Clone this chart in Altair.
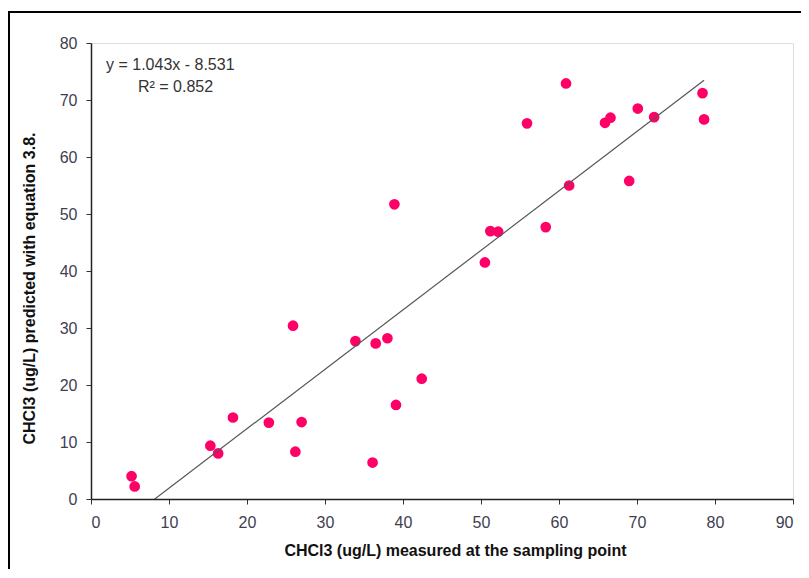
import altair as alt
import pandas as pd

# Measured (x) and predicted (y) CHCl3 values
measured = [5.2, 5.6, 15.3, 16.3, 18.2, 22.8, 26.2, 27.0, 25.9, 33.9,
            36.5, 38.0, 36.1, 39.1, 42.4, 38.9, 50.5, 51.2, 52.2, 55.9,
            58.3, 60.9, 61.3, 65.9, 66.6, 70.1, 69.0, 72.2, 78.4, 78.6]
predicted = [4.0, 2.2, 9.35, 8.0, 14.3, 13.4, 8.3, 13.5, 30.4, 27.7,
             27.3, 28.2, 6.4, 16.5, 21.1, 51.7, 41.5, 47.0, 46.9, 65.9,
             47.7, 72.9, 55.0, 66.0, 66.9, 68.5, 55.8, 67.0, 71.2, 66.6]

slope = 1.043
intercept = -8.531
eq_text = "y = 1.043x  - 8.531"
r2_text = "R² = 0.852"

x_ticks = list(range(0, 91, 10))
y_ticks = list(range(0, 81, 10))

df = pd.DataFrame({"x": measured, "y": predicted})
line_x = [min(measured), max(measured)]
line_df = pd.DataFrame({"x": line_x, "y": [slope * v + intercept for v in line_x]})

W, H = 702, 456
FONT = "Liberation Sans"

xscale = alt.Scale(domain=[0, 90], nice=False)
yscale = alt.Scale(domain=[0, 80], nice=False)

xaxis = alt.Axis(values=x_ticks, grid=False, title="CHCl3 (ug/L) measured at the sampling point",
                 titleFont=FONT, titleFontSize=16, titleFontWeight="bold", titleColor="#111",
                 titleX=364, titleY=43, titleBaseline="top",
                 labelFont=FONT, labelFontSize=16, labelColor="#404050", labelPadding=10,
                 tickSize=5, tickColor="#333", domainColor="#222", domainWidth=1.5)
yaxis = alt.Axis(values=y_ticks, grid=False, title="CHCl3 (ug/L) predicted  with equation 3.8.",
                 titleFont=FONT, titleFontSize=16, titleFontWeight="bold", titleColor="#111",
                 titleX=-54, titleY=245, titleAngle=270, titleBaseline="bottom", titleAlign="center",
                 labelFont=FONT, labelFontSize=16, labelColor="#404050", labelPadding=9,
                 tickSize=5, tickColor="#333", domainColor="#222", domainWidth=1.5)

points = alt.Chart(df).mark_circle(size=115, color="#FF0066", opacity=1).encode(
    x=alt.X("x:Q", scale=xscale, axis=xaxis),
    y=alt.Y("y:Q", scale=yscale, axis=yaxis),
)

trend = alt.Chart(line_df).mark_line(color="#555555", strokeWidth=1.2, clip=True).encode(
    x=alt.X("x:Q", scale=xscale),
    y=alt.Y("y:Q", scale=yscale),
)

eq = alt.Chart(pd.DataFrame({"t": [eq_text]})).mark_text(
    font=FONT, fontSize=16, color="#333", align="left", baseline="alphabetic"
).encode(text="t:N", x=alt.value(15), y=alt.value(27))

r2 = alt.Chart(pd.DataFrame({"t": [r2_text]})).mark_text(
    font=FONT, fontSize=16, color="#333", align="left", baseline="alphabetic"
).encode(text="t:N", x=alt.value(47), y=alt.value(48.5))

frame_top = alt.Chart(pd.DataFrame({"a": [0]})).mark_rule(color="#000", strokeWidth=2, clip=False).encode(
    x=alt.value(-83), x2=alt.value(720), y=alt.value(-31))
frame_left = alt.Chart(pd.DataFrame({"a": [0]})).mark_rule(color="#000", strokeWidth=2, clip=False).encode(
    x=alt.value(-82), y=alt.value(-32), y2=alt.value(600))

chart = alt.layer(points, trend, eq, r2, frame_top, frame_left).properties(
    width=W, height=H,
    autosize=alt.AutoSizeParams(type="none"),
    padding={"left": 83, "top": 35, "right": 8, "bottom": 70},
).configure_view(stroke="#A0A0A0", strokeWidth=1.5).configure(background="white")

chart.save("out.html", embed_options={"renderer": "svg", "actions": False})
